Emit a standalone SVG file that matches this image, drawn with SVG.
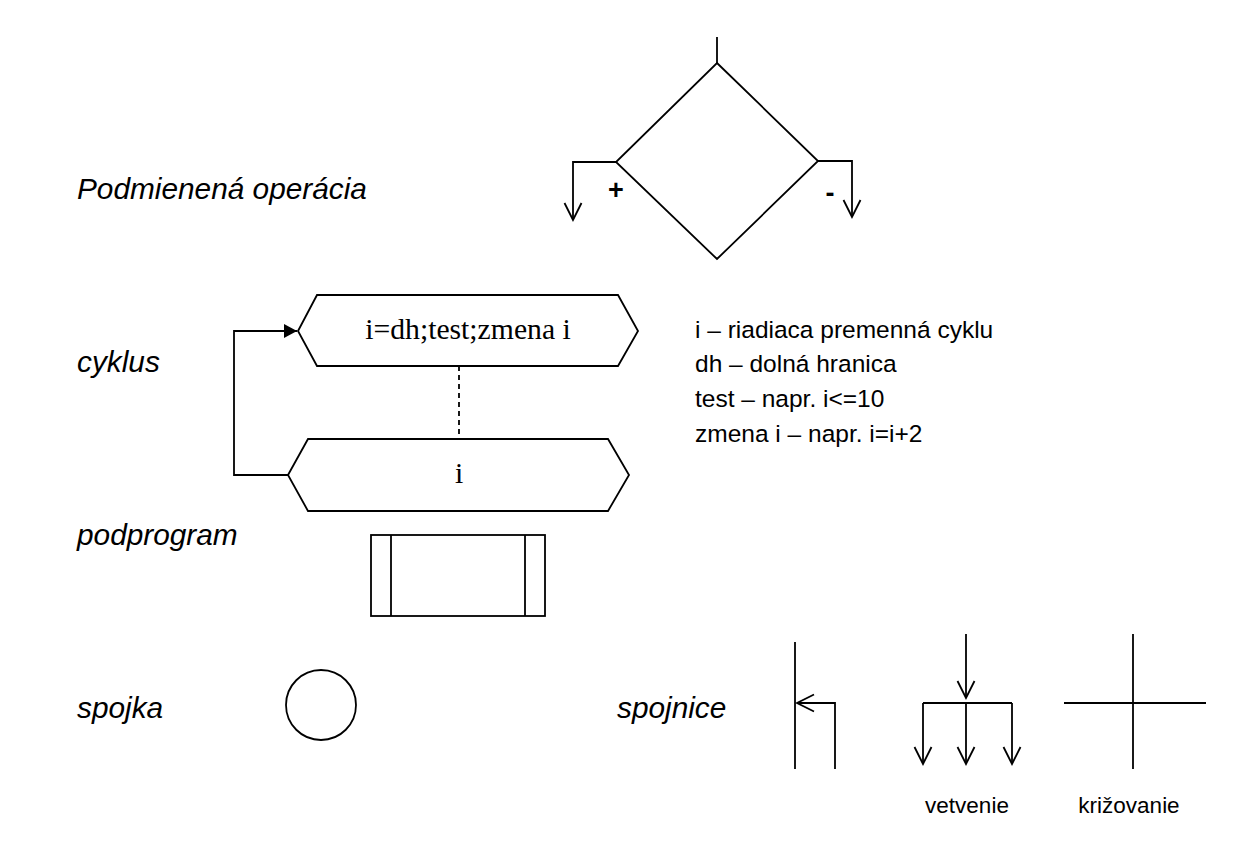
<svg xmlns="http://www.w3.org/2000/svg" width="1248" height="858" viewBox="0 0 1248 858">
<style>
.ln{fill:none;stroke:#000;stroke-width:1.8;stroke-linecap:butt;stroke-linejoin:miter}
.sh{fill:#fff;stroke:#000;stroke-width:1.8}
.lbl{font-family:"Liberation Sans",Arial,sans-serif;font-style:italic;font-size:29.8px;fill:#000}
.note{font-family:"Liberation Sans",Arial,sans-serif;font-size:24.5px;fill:#000}
.cap{font-family:"Liberation Sans",Arial,sans-serif;font-size:22.5px;fill:#000;text-anchor:middle}
.sig{font-family:"Liberation Sans",Arial,sans-serif;font-size:27px;font-weight:bold;fill:#000;text-anchor:middle}
.ser{font-family:"Liberation Serif","Times New Roman",serif;font-size:29.7px;fill:#000;text-anchor:middle}
</style>
<defs>
<marker id="open" viewBox="0 0 20 20" markerUnits="userSpaceOnUse" markerWidth="20" markerHeight="20" refX="18" refY="9.5" orient="auto">
<path d="M1,1 L18,9.5 L1,18" fill="none" stroke="#000" stroke-width="1.8"/>
</marker>
<marker id="solid" viewBox="0 0 14 14" markerUnits="userSpaceOnUse" markerWidth="14" markerHeight="14" refX="13" refY="7" orient="auto">
<path d="M0,0 L13,7 L0,14 Z" fill="#000"/>
</marker>
</defs>
<rect width="1248" height="858" fill="#fff"/>

<g id="labels">
<text class="lbl" x="77" y="199">Podmienená operácia</text>
<text class="lbl" x="77" y="372">cyklus</text>
<text class="lbl" x="77" y="545">podprogram</text>
<text class="lbl" x="77" y="718">spojka</text>
<text class="lbl" x="617" y="718">spojnice</text>
</g>

<g id="notes">
<text class="note" x="695" y="338">i – riadiaca premenná cyklu</text>
<text class="note" x="695" y="372">dh – dolná hranica</text>
<text class="note" x="695" y="407">test – napr. i&lt;=10</text>
<text class="note" x="695" y="442">zmena i – napr. i=i+2</text>
</g>

<g id="connectors">
<line class="ln" x1="717" y1="37" x2="717" y2="63"/>
<polyline class="ln" points="616,162 573,162 573,220" marker-end="url(#open)"/>
<polyline class="ln" points="818,161 852,161 852,217" marker-end="url(#open)"/>
<polyline class="ln" points="288,475 234,475 234,331 297,331" marker-end="url(#solid)"/>
<line class="ln" x1="459" y1="366" x2="459" y2="439" stroke-dasharray="5,4"/>
<line class="ln" x1="795" y1="642" x2="795" y2="769"/>
<polyline class="ln" points="835,769 835,703 797,703" marker-end="url(#open)"/>
<line class="ln" x1="966" y1="634" x2="966" y2="698" marker-end="url(#open)"/>
<line class="ln" x1="923" y1="703" x2="1012" y2="703"/>
<line class="ln" x1="923" y1="703" x2="923" y2="764" marker-end="url(#open)"/>
<line class="ln" x1="966" y1="703" x2="966" y2="764" marker-end="url(#open)"/>
<line class="ln" x1="1012" y1="703" x2="1012" y2="764" marker-end="url(#open)"/>
<line class="ln" x1="1133" y1="634" x2="1133" y2="769"/>
<line class="ln" x1="1064" y1="703" x2="1206" y2="703"/>
</g>

<g id="decision">
<polygon class="sh" points="717,63 818,161 717,259 616,162"/>
<text class="sig" x="616" y="199">+</text>
<text class="sig" x="830" y="202">-</text>
</g>

<g id="loop-start">
<polygon class="sh" points="298,331 317,295 618,295 638,331 618,366 317,366"/>
<text class="ser" x="468" y="339">i=dh;test;zmena i</text>
</g>

<g id="loop-end">
<polygon class="sh" points="288,475 308,439 608,439 629,475 608,511 308,511"/>
<text class="ser" x="459" y="483">i</text>
</g>

<g id="subroutine">
<rect class="sh" x="371" y="535" width="174" height="81"/>
<line class="ln" x1="391" y1="535" x2="391" y2="616"/>
<line class="ln" x1="525" y1="535" x2="525" y2="616"/>
</g>

<g id="connector-circle">
<circle class="sh" cx="321" cy="705" r="35"/>
</g>

<g id="captions">
<text class="cap" x="967" y="813">vetvenie</text>
<text class="cap" x="1129" y="813">križovanie</text>
</g>
</svg>
